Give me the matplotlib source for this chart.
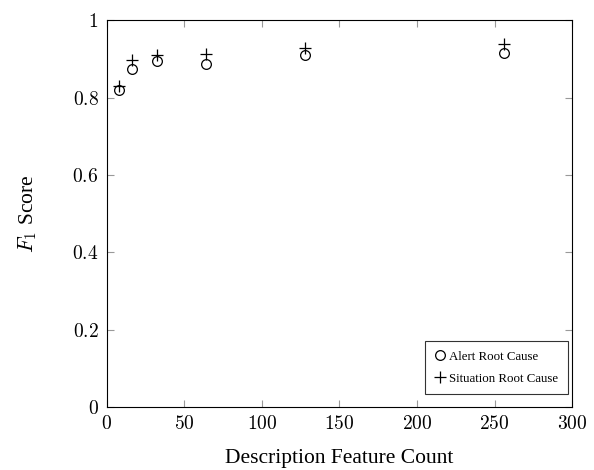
import matplotlib
matplotlib.use("Agg")
import matplotlib.pyplot as plt
from matplotlib.ticker import FuncFormatter

plt.rcParams['font.family'] = ['Liberation Serif', 'DejaVu Serif']
plt.rcParams['mathtext.fontset'] = 'cm'

# feature counts and F1 scores
feature_counts = [8, 16, 32, 64, 128, 256]
alert_f1 = [0.820, 0.873, 0.895, 0.888, 0.909, 0.914]
situation_f1 = [0.830, 0.898, 0.910, 0.913, 0.929, 0.938]

fig = plt.figure(figsize=(5.94, 4.70), dpi=100)
ax = fig.add_axes([0.180, 0.134, 0.783, 0.823])

ax.plot(feature_counts, alert_f1, linestyle='none', marker='o', markersize=7,
        markerfacecolor='none', markeredgecolor='black', markeredgewidth=0.9,
        label='Alert Root Cause')
ax.plot(feature_counts, situation_f1, linestyle='none', marker='+', markersize=8,
        color='black', markeredgewidth=0.9, label='Situation Root Cause')

ax.set_xlim(0, 300)
ax.set_ylim(0, 1)
ax.set_xticks([0, 50, 100, 150, 200, 250, 300])
ax.set_yticks([0, 0.2, 0.4, 0.6, 0.8, 1])

def fmt(v, pos):
    return '$' + ('%g' % v) + '$'

ax.xaxis.set_major_formatter(FuncFormatter(fmt))
ax.yaxis.set_major_formatter(FuncFormatter(fmt))
ax.tick_params(direction='in', length=5, width=0.8, color='#999999',
               top=True, right=True, labelsize=14, pad=6)

for sp in ax.spines.values():
    sp.set_linewidth(0.8)

ax.set_xlabel('Description Feature Count', fontsize=15.5, labelpad=11)
ax.set_ylabel('$F_1$ Score', fontsize=15.5, labelpad=24)

leg = ax.legend(loc='lower right', bbox_to_anchor=(0.992, 0.033),
                fontsize=9.3, frameon=True, fancybox=False,
                edgecolor='black', borderpad=0.75, handlelength=0.8,
                handletextpad=0.35, borderaxespad=0, labelspacing=0.75)
leg.get_frame().set_linewidth(0.8)

fig.savefig('out.png', dpi=100)
